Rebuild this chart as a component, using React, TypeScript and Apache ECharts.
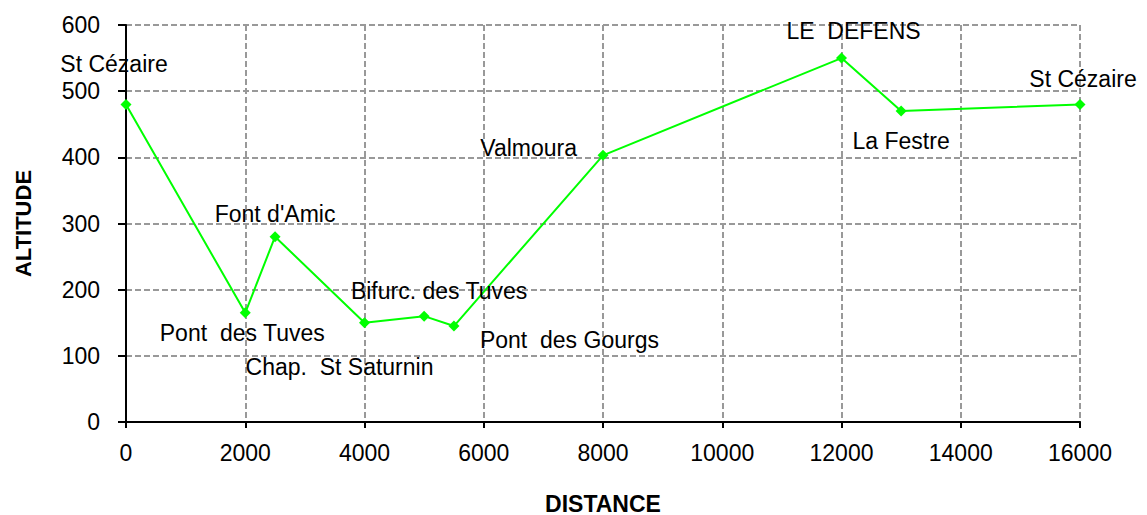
import React, { useEffect, useRef } from "react";
import * as echarts from "echarts";

const distances = [0, 2000, 2500, 4000, 5000, 5500, 8000, 12000, 13000, 16000];
const altitudes = [480, 165, 280, 150, 160, 145, 403, 550, 470, 480];
const placeNames = [
  "St Cézaire",
  "Pont  des Tuves",
  "Font d'Amic",
  "Chap.  St Saturnin",
  "Bifurc. des Tuves",
  "Pont  des Gourgs",
  "Valmoura",
  "LE  DEFENS",
  "La Festre",
  "St Cézaire",
];
// label offsets relative to each point (styling only)
const labelOffsets: [number, number][] = [
  [-12, -40],
  [-3, 20],
  [0, -23],
  [-25, 44],
  [15, -25],
  [26, 14],
  [-26, -7],
  [12, -27],
  [0, 30],
  [3, -25],
];
const labelAligns = ["center", "center", "center", "center", "center", "left", "right", "center", "center", "center"];

const FONT = "'Liberation Sans', Arial, Helvetica, sans-serif";

export default function App() {
  const ref = useRef<HTMLDivElement>(null);
  useEffect(() => {
    if (!ref.current) return;
    const chart = echarts.init(ref.current, undefined, { renderer: "svg" });
    const data = distances.map((d, i) => ({
      value: [d, altitudes[i]],
      label: {
        show: true,
        formatter: placeNames[i],
        position: "inside",
        offset: labelOffsets[i],
        align: labelAligns[i],
        verticalAlign: "middle",
      },
    }));
    const gridLine = { show: true, lineStyle: { color: "#999999", width: 2, type: [6, 3] as any } };
    chart.setOption({
      animation: false,
      backgroundColor: "#ffffff",
      textStyle: { fontFamily: FONT },
      grid: { left: 126, right: 67, top: 25, bottom: 93, containLabel: false, outerBoundsMode: "none" },
      xAxis: {
        type: "value",
        min: 0,
        max: 16000,
        interval: 2000,
        name: "DISTANCE",
        nameLocation: "middle",
        nameGap: 70,
        nameTextStyle: { fontFamily: FONT, fontSize: 23, fontWeight: "bold", color: "#000" },
        axisLine: { show: true, onZero: false, lineStyle: { color: "#000", width: 2 } },
        axisTick: { show: true, length: 6, lineStyle: { color: "#000", width: 2 } },
        axisLabel: { fontFamily: FONT, fontSize: 23, color: "#000", margin: 19, formatter: (v: number) => String(v) },
        splitLine: gridLine,
      },
      yAxis: {
        type: "value",
        min: 0,
        max: 600,
        interval: 100,
        name: "ALTITUDE",
        nameLocation: "middle",
        nameGap: 92,
        nameTextStyle: { fontFamily: FONT, fontSize: 22, fontWeight: "bold", color: "#000" },
        axisLine: { show: true, lineStyle: { color: "#000", width: 2 } },
        axisTick: { show: true, length: 8, lineStyle: { color: "#000", width: 2 } },
        axisLabel: { fontFamily: FONT, fontSize: 23, color: "#000", margin: 26, formatter: (v: number) => String(v) },
        splitLine: gridLine,
      },
      series: [
        {
          type: "line",
          data,
          symbol: "diamond",
          symbolSize: 11,
          itemStyle: { color: "#00ff00" },
          lineStyle: { color: "#00ff00", width: 2 },
          label: { fontFamily: FONT, fontSize: 23, color: "#000", lineHeight: 24 },
          emphasis: { disabled: true },
        },
      ],
    });
    return () => chart.dispose();
  }, []);
  return (
    <div
      ref={ref}
      style={{ position: "fixed", left: 0, top: 0, width: 1147, height: 515 }}
    />
  );
}
